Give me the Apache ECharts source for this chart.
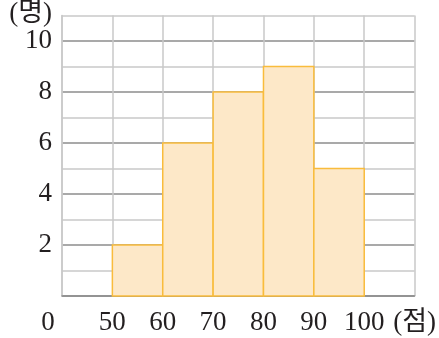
<!DOCTYPE html>
<html>
<head>
<meta charset="utf-8">
<script src="https://cdn.jsdelivr.net/npm/echarts@6/dist/echarts.min.js"></script>
<style>html,body{margin:0;padding:0;background:#fff;}#c{width:439px;height:338px;}</style>
</head>
<body>
<div id="c"></div>
<script>
// Class boundaries (점) and frequencies (명)
var binStarts = [50, 60, 70, 80, 90];
var binEnds = [60, 70, 80, 90, 100];
var counts = [2, 6, 8, 9, 5];
var yTickLabels = {2: '2', 4: '4', 6: '6', 8: '8', 10: '10'};
var yUnit = '(명)';
var xTickLabels = {40: '0', 50: '50', 60: '60', 70: '70', 80: '80', 90: '90', 100: '100', 110: '(점)'};

var FONT = '"Liberation Serif", "Noto Sans CJK KR", serif';
var data = binStarts.map(function (s, i) { return [s, binEnds[i], counts[i]]; });

var chart = echarts.init(document.getElementById('c'));
chart.setOption({
  animation: false,
  grid: {left: 62, right: 20, top: 15.5, bottom: 42},
  xAxis: {
    type: 'value', min: 40, max: 110, interval: 10,
    axisLine: {show: true, lineStyle: {color: '#8c8c8c', width: 1.5}},
    axisTick: {show: false},
    splitLine: {show: true, lineStyle: {color: '#c8c8c8', width: 1.5}},
    axisLabel: {
      margin: 13, color: '#231f20', fontFamily: FONT, fontSize: 27,
      showMinLabel: true, showMaxLabel: true, hideOverlap: false,
      formatter: function (v) {
        var t = xTickLabels[v] || '';
        if (v === 40) return '{z|' + t + '}';
        return t;
      },
      rich: {z: {fontFamily: FONT, fontSize: 27, color: '#231f20', padding: [0, 28, 0, 0]}}
    }
  },
  yAxis: {
    type: 'value', min: 0, max: 11, interval: 1,
    name: yUnit, nameLocation: 'end', nameGap: 0,
    nameTextStyle: {
      fontFamily: FONT, fontSize: 27, color: '#231f20',
      align: 'right', verticalAlign: 'middle', padding: [0, 10, 0, 0]
    },
    axisLine: {show: true, lineStyle: {color: '#c8c8c8', width: 1.5}},
    axisTick: {show: false},
    splitLine: {show: true, lineStyle: {color: ['#8c8c8c', '#c8c8c8'], width: 1.5}},
    axisLabel: {
      margin: 10, color: '#231f20', fontFamily: FONT, fontSize: 27,
      showMinLabel: true, showMaxLabel: false,
      formatter: function (v) { return yTickLabels[v] || ''; }
    }
  },
  series: [{
    type: 'custom',
    data: data,
    encode: {x: [0, 1], y: 2},
    renderItem: function (params, api) {
      var p0 = api.coord([api.value(0), 0]);
      var p1 = api.coord([api.value(1), api.value(2)]);
      return {
        type: 'rect',
        shape: {x: p0[0], y: p1[1], width: p1[0] - p0[0], height: p0[1] - p1[1]},
        style: {fill: '#fde8c8', stroke: '#f9bc3c', lineWidth: 1.5}
      };
    }
  }]
});
</script>
</body>
</html>
